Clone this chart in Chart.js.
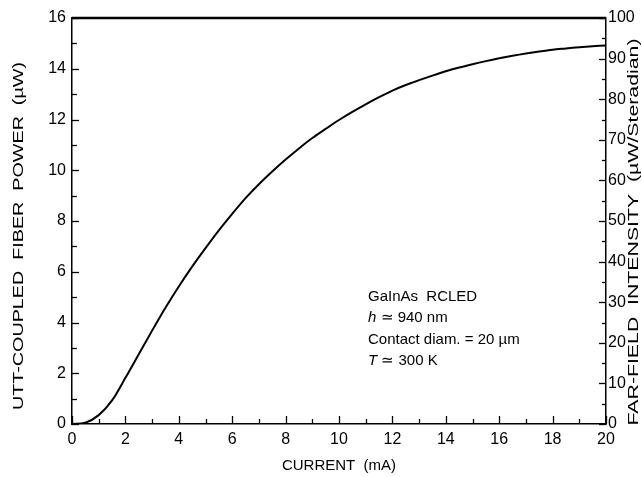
<!DOCTYPE html>
<html><head><meta charset="utf-8">
<script src="https://cdn.jsdelivr.net/npm/chart.js@4/dist/chart.umd.min.js"></script>
<style>html,body{margin:0;padding:0;background:#fff}#wrap{width:642px;height:477px}</style>
</head><body><div id="wrap"><canvas id="c" width="642" height="477"></canvas></div>
<script>
// ---- data ----
const currentMA    = [0, 0.5, 1, 1.5, 2, 2.5, 3, 3.5, 4, 4.5, 5, 5.5, 6, 6.5, 7, 7.5, 8, 8.5, 9, 9.5, 10,
                      10.5, 11, 11.5, 12, 12.5, 13, 13.5, 14, 14.5, 15, 15.5, 16, 16.5, 17, 17.5, 18, 18.5, 19, 19.5, 20];
const fiberPowerUW = [0, 0.05, 0.35, 0.93, 1.82, 2.75, 3.68, 4.58, 5.42, 6.2, 6.93, 7.63, 8.28, 8.9, 9.45, 9.95, 10.42, 10.86, 11.27, 11.63, 11.98,
                      12.3, 12.6, 12.88, 13.14, 13.36, 13.55, 13.73, 13.9, 14.05, 14.18, 14.3, 14.41, 14.51, 14.6, 14.68, 14.75, 14.8, 14.85, 14.89, 14.92];
const xTickLabels     = [0, 2, 4, 6, 8, 10, 12, 14, 16, 18, 20];
const leftTickLabels  = [0, 2, 4, 6, 8, 10, 12, 14, 16];
const rightTickLabels = [0, 10, 20, 30, 40, 50, 60, 70, 80, 90, 100];
const xTitle     = 'CURRENT  (mA)';
const leftTitle  = 'UTT-COUPLED  FIBER  POWER  (\u00b5W)';
const rightTitle = 'FAR-FIELD  INTENSITY  (\u00b5W/Steradian)';
const noteLines  = [
  [['', 'GaInAs  RCLED']],
  [['h', ' \u2243 940 nm']],
  [['', 'Contact diam. = 20 \u00b5m']],
  [['T', ' \u2243 300 K']]
];

const FONT = '"Liberation Sans", Arial, sans-serif';

function drawRotated(ctx, text, cx, cy, target) {
  ctx.save();
  ctx.translate(cx, cy);
  ctx.rotate(-Math.PI / 2);
  const w = ctx.measureText(text).width;
  ctx.scale(target / w, 1);
  ctx.fillText(text, 0, 0);
  ctx.restore();
}

const decor = {
  id: 'decor',
  afterDatasetsDraw(chart) {
    const ctx = chart.ctx, a = chart.chartArea;
    const sx = chart.scales.x, sy = chart.scales.y, sy2 = chart.scales.y2;
    ctx.save();
    ctx.strokeStyle = '#000';
    ctx.lineWidth = 1.3;
    for (let v = 0; v <= 20; v++) {
      const px = Math.round(sx.getPixelForValue(v)) + 0.5;
      const len = v % 2 === 0 ? 8 : 5;
      ctx.beginPath(); ctx.moveTo(px, a.bottom); ctx.lineTo(px, a.bottom - len); ctx.stroke();
    }
    for (let v = 0; v <= 16; v++) {
      const py = Math.round(sy.getPixelForValue(v)) + 0.5;
      const len = v % 2 === 0 ? 7 : 5;
      ctx.beginPath(); ctx.moveTo(a.left, py); ctx.lineTo(a.left + len, py); ctx.stroke();
    }
    for (let v = 0; v <= 100; v += 5) {
      const py = Math.round(sy2.getPixelForValue(v)) + 0.5;
      const len = v % 10 === 0 ? 7 : 4;
      ctx.beginPath(); ctx.moveTo(a.right, py); ctx.lineTo(a.right - len, py); ctx.stroke();
    }
    ctx.lineWidth = 2.5;
    ctx.beginPath(); ctx.moveTo(a.left, a.top); ctx.lineTo(a.right, a.top); ctx.stroke();

    ctx.fillStyle = '#000';
    ctx.font = '15px ' + FONT;
    ctx.textAlign = 'center'; ctx.textBaseline = 'middle';
    ctx.fillText(xTitle, (a.left + a.right) / 2, 466);
    drawRotated(ctx, leftTitle, 19, 236, 348);
    drawRotated(ctx, rightTitle, 634, 232, 387);

    ctx.textAlign = 'left';
    const lineY = [297, 318, 340, 361];
    noteLines.forEach((parts, i) => {
      let x = 368;
      parts.forEach(([it, rest]) => {
        if (it) { ctx.font = 'italic 15px ' + FONT; ctx.fillText(it, x, lineY[i]); x += ctx.measureText(it).width; }
        ctx.font = '15px ' + FONT; ctx.fillText(rest, x, lineY[i]); x += ctx.measureText(rest).width;
      });
    });
    ctx.restore();
  }
};

const tickFont = { family: FONT, size: 16 };
const noGrid = { drawOnChartArea: false, drawTicks: false };
const border = { color: '#000', width: 1.5 };

new Chart(document.getElementById('c'), {
  type: 'line',
  data: {
    datasets: [{
      data: currentMA.map((x, i) => ({ x, y: fiberPowerUW[i] })),
      borderColor: '#000', borderWidth: 2, pointRadius: 0, tension: 0.3,
      fill: false, yAxisID: 'y'
    }]
  },
  options: {
    responsive: false, animation: false, devicePixelRatio: 1,
    layout: { padding: { top: 18, left: 0, right: 0, bottom: 0 } },
    plugins: { legend: { display: false }, tooltip: { enabled: false } },
    scales: {
      x: {
        type: 'linear', min: 0, max: 20,
        afterFit(s) { s.height = 53; },
        afterBuildTicks(s) { s.ticks = xTickLabels.map(v => ({ value: v })); },
        grid: noGrid, border,
        ticks: { color: '#000', font: tickFont, padding: 6, maxRotation: 0, autoSkip: false }
      },
      y: {
        position: 'left', min: 0, max: 16,
        afterFit(s) { s.width = 72; },
        afterBuildTicks(s) { s.ticks = leftTickLabels.map(v => ({ value: v })); },
        grid: noGrid, border,
        ticks: { color: '#000', font: tickFont, padding: 6, autoSkip: false }
      },
      y2: {
        position: 'right', min: 0, max: 100,
        afterFit(s) { s.width = 36; },
        afterBuildTicks(s) { s.ticks = rightTickLabels.map(v => ({ value: v })); },
        grid: noGrid, border,
        ticks: { color: '#000', font: tickFont, padding: 2, autoSkip: false }
      }
    }
  },
  plugins: [decor]
});
</script></body></html>
